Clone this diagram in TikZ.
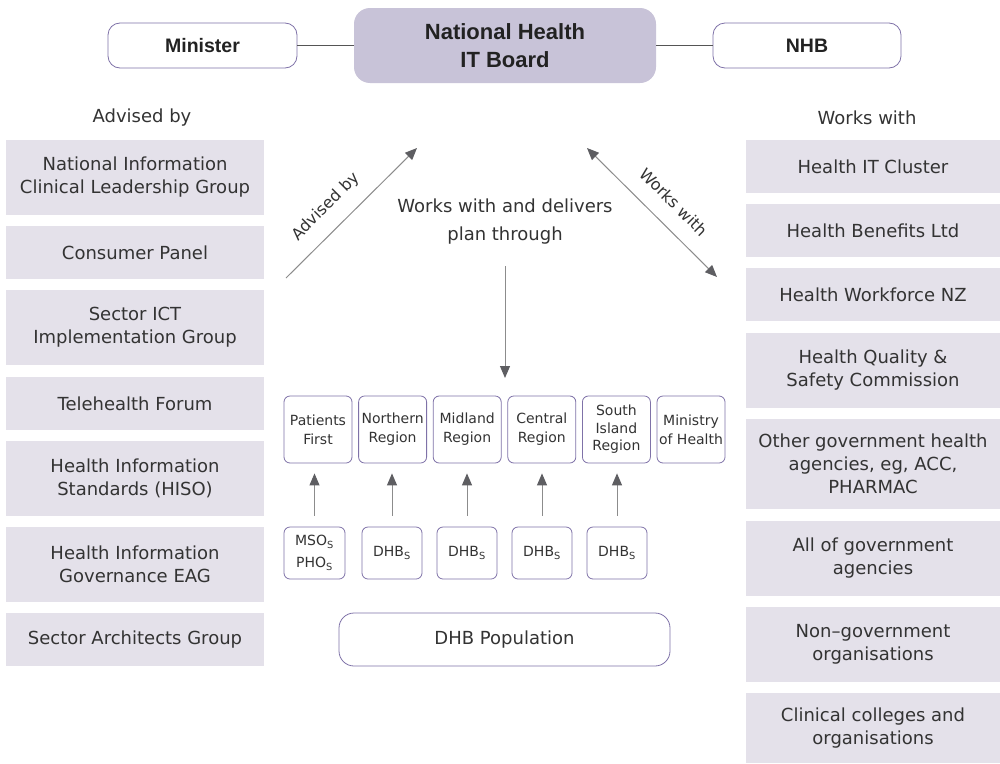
\documentclass[tikz,border=0pt]{standalone}
\usepackage{fontspec}
\setmainfont{DejaVu Sans}
\newfontfamily\headfont{Liberation Sans}
\usetikzlibrary{arrows.meta}
\definecolor{boxgray}{HTML}{E4E1EA}
\definecolor{boardfill}{HTML}{C8C3D8}
\definecolor{purpleline}{HTML}{7F72A8}
\definecolor{txt}{HTML}{333333}
\definecolor{headtxt}{HTML}{222222}
\definecolor{arrowgray}{HTML}{8C8C8C}
\definecolor{tipgray}{HTML}{5E5E62}
\definecolor{linkgray}{HTML}{555555}
\begin{document}
\begin{tikzpicture}[x=1pt,y=-1pt,
  graybox/.style={fill=boxgray, draw=none, inner sep=0pt, minimum width=258pt, align=center, text=txt, font=\fontsize{18}{23}\selectfont},
  rightbox/.style={graybox, minimum width=254pt},
  topbox/.style={draw=purpleline, line width=0.8pt, fill=white, rounded corners=12pt, inner sep=0pt, minimum height=45pt, text=headtxt, font=\headfont\bfseries\fontsize{19.5}{22}\selectfont},
  boardbox/.style={fill=boardfill, draw=none, rounded corners=16pt, inner sep=0pt, minimum width=302pt, minimum height=75pt, align=center, text=headtxt, font=\headfont\bfseries\fontsize{22}{27.5}\selectfont},
  regionbox/.style={draw=purpleline, line width=0.8pt, fill=white, rounded corners=6pt, inner sep=0pt, minimum width=68pt, minimum height=67pt, align=center, text=txt, font=\fontsize{14}{17.5}\selectfont},
  dhbbox/.style={draw=purpleline, line width=0.8pt, fill=white, rounded corners=6pt, inner sep=0pt, minimum width=60pt, minimum height=52pt, align=center, text=txt, font=\fontsize{14}{22}\selectfont},
  popbox/.style={draw=purpleline, line width=0.8pt, fill=white, rounded corners=15pt, inner sep=0pt, minimum width=331pt, minimum height=53pt, text=txt, font=\fontsize{18}{22}\selectfont},
  plainlabel/.style={inner sep=0pt, text=txt, align=center, font=\fontsize{18}{28}\selectfont},
  slantlabel/.style={inner sep=0pt, text=txt, font=\fontsize{16}{20}\selectfont},
  flowarrow/.style={draw=arrowgray, line width=1pt, -{Triangle[length=12pt,width=10pt,color=tipgray]}},
  twoarrow/.style={draw=arrowgray, line width=1pt, {Triangle[length=12pt,width=10pt,color=tipgray]}-{Triangle[length=12pt,width=10pt,color=tipgray]}},
  toplink/.style={draw=linkgray, line width=1pt}
]
\useasboundingbox (0,0) rectangle (1000,763);
\fill[white] (0,0) rectangle (1000,763);

% top row
\node[boardbox] (board) at (505,45.5) {National Health\\IT Board};
\node[topbox, minimum width=189pt] (minister) at (202.5,45.5) {Minister};
\node[topbox, minimum width=188pt] (nhb) at (807,45.5) {NHB};
\draw[toplink] (minister.east) -- (board.west);
\draw[toplink] (board.east) -- (nhb.west);

% left column
\node[plainlabel] (advhead) at (142,118) {Advised by};
\node[graybox, minimum height=75pt] (l1) at (135,177.5) {National Information\\Clinical Leadership Group};
\node[graybox, minimum height=53pt] (l2) at (135,252.5) {Consumer Panel};
\node[graybox, minimum height=75pt] (l3) at (135,327.5) {Sector ICT\\Implementation Group};
\node[graybox, minimum height=53pt] (l4) at (135,403.5) {Telehealth Forum};
\node[graybox, minimum height=75pt] (l5) at (135,478.5) {Health Information\\Standards (HISO)};
\node[graybox, minimum height=75pt] (l6) at (135,564.5) {Health Information\\Governance EAG};
\node[graybox, minimum height=53pt] (l7) at (135,639.5) {Sector Architects Group};

% right column
\node[plainlabel] (workhead) at (867,118) {Works with};
\node[rightbox, minimum height=53pt] (r1) at (873,166.5) {Health IT Cluster};
\node[rightbox, minimum height=53pt] (r2) at (873,230.5) {Health Benefits Ltd};
\node[rightbox, minimum height=53pt] (r3) at (873,294.5) {Health Workforce NZ};
\node[rightbox, minimum height=75pt] (r4) at (873,370) {Health Quality \&\\Safety Commission};
\node[rightbox, minimum height=90pt] (r5) at (873,464) {Other government health\\agencies, eg, ACC,\\PHARMAC};
\node[rightbox, minimum height=75pt] (r6) at (873,558.5) {All of government\\agencies};
\node[rightbox, minimum height=75pt] (r7) at (873,644.5) {Non{\textendash}government\\organisations};
\node[rightbox, minimum height=70pt] (r8) at (873,728) {Clinical colleges and\\organisations};

% central arrows and labels
\coordinate (advstart) at (286,278);
\coordinate (advend) at (417,148);
\coordinate (workstart) at (587,148);
\coordinate (workend) at (717,277);
\coordinate (downstart) at (505,266);
\coordinate (downend) at (505,378);
\draw[flowarrow] (advstart) -- (advend);
\draw[twoarrow] (workstart) -- (workend);
\draw[flowarrow] (downstart) -- (downend);
\node[slantlabel, rotate=45] (advlabel) at (326,207) {Advised by};
\node[slantlabel, rotate=-45] (worklabel) at (674,202) {Works with};
\node[plainlabel] (deliver) at (505,222) {Works with and delivers\\plan through};

% regions
\node[regionbox] (pf) at (318,429.5) {Patients\\[1.5pt]First};
\node[regionbox] (nr) at (392.6,429.5) {Northern\\[1.5pt]Region};
\node[regionbox] (mr) at (467.2,429.5) {Midland\\[1.5pt]Region};
\node[regionbox] (cr) at (541.8,429.5) {Central\\[1.5pt]Region};
\node[regionbox] (sr) at (616.4,429.5) {South\\Island\\Region};
\node[regionbox] (mh) at (691,429.5) {Ministry\\[1.5pt]of Health};

% lower boxes
\node[dhbbox, minimum width=61pt] (mso) at (314.5,553) {MSO\textsubscript{S}\\PHO\textsubscript{S}};
\node[dhbbox] (d1) at (392,553) {DHB\textsubscript{S}};
\node[dhbbox] (d2) at (467,553) {DHB\textsubscript{S}};
\node[dhbbox] (d3) at (542,553) {DHB\textsubscript{S}};
\node[dhbbox] (d4) at (617,553) {DHB\textsubscript{S}};

\foreach \lo/\up in {mso/pf, d1/nr, d2/mr, d3/cr, d4/sr}{
  \draw[flowarrow, shorten <=11pt, shorten >=10pt] (\lo.north) -- (\lo.north |- \up.south);
}

\node[popbox] (pop) at (504.5,639.5) {DHB Population};
\end{tikzpicture}
\end{document}
